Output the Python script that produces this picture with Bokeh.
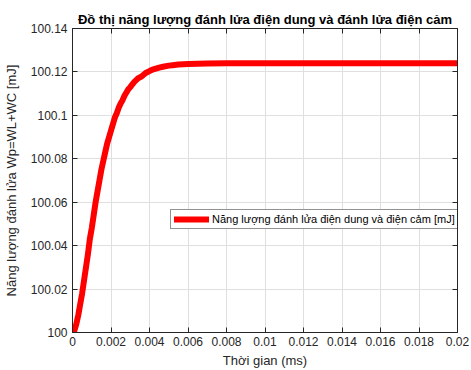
from bokeh.plotting import figure
from bokeh.models import FixedTicker, LinearAxis, Legend, LegendItem, Range1d
from bokeh.embed import file_html
from bokeh.resources import INLINE

# Data
t_ms = [0, 0.0001, 0.0002, 0.0003, 0.0004, 0.0005, 0.0006, 0.0007, 0.0008, 0.0009,
        0.001, 0.0011, 0.0012, 0.0013, 0.0014, 0.0015, 0.0016, 0.0017, 0.0018,
        0.0019, 0.002, 0.0021, 0.0022, 0.0023, 0.0024, 0.0025, 0.0026, 0.0027,
        0.0028, 0.0029, 0.003, 0.0031, 0.0032, 0.0034, 0.0036, 0.0038, 0.004,
        0.0042, 0.0045, 0.0047, 0.005, 0.0052, 0.0055, 0.006, 0.0065, 0.007,
        0.008, 0.01, 0.012, 0.015, 0.02]
energy_mJ = [100.000, 100.001, 100.004, 100.008, 100.013, 100.018, 100.024, 100.030,
             100.036, 100.043, 100.048, 100.054, 100.060, 100.065, 100.070, 100.075,
             100.079, 100.083, 100.087, 100.090, 100.093, 100.096, 100.099, 100.101,
             100.1035, 100.1055, 100.107, 100.109, 100.1105, 100.112, 100.113,
             100.1142, 100.1153, 100.117, 100.118, 100.1195, 100.1204, 100.1212,
             100.122, 100.1224, 100.1229, 100.1231, 100.1234, 100.1237, 100.1238,
             100.1239, 100.124, 100.124, 100.124, 100.124, 100.124]

x_ticks = [0, 0.002, 0.004, 0.006, 0.008, 0.01, 0.012, 0.014, 0.016, 0.018, 0.02]
x_tick_labels = ["0", "0.002", "0.004", "0.006", "0.008", "0.01", "0.012", "0.014",
                 "0.016", "0.018", "0.02"]
y_ticks = [100, 100.02, 100.04, 100.06, 100.08, 100.1, 100.12, 100.14]
y_tick_labels = ["100", "100.02", "100.04", "100.06", "100.08", "100.1", "100.12", "100.14"]

title_text = "Đồ thị năng lượng đánh lửa điện dung và đánh lửa điện cảm"
x_label = "Thời gian (ms)"
y_label = "Năng lượng đánh lửa Wp=WL+WC [mJ]"
legend_label = "Năng lượng đánh lửa điện dung và điện cảm [mJ]"

FONT = "Liberation Sans"
AX = "#262626"

p = figure(width=471, height=370, output_backend="svg", toolbar_location=None,
           x_range=Range1d(0, 0.02), y_range=Range1d(100, 100.14),
           min_border_left=71, min_border_right=14, min_border_top=28,
           min_border_bottom=38)
p.background_fill_color = "white"
p.border_fill_color = "white"
p.outline_line_color = AX
p.outline_line_width = 1

p.title.text = title_text
p.title.text_font = FONT
p.title.text_font_size = "13px"
p.title.text_font_style = "bold"
p.title.text_color = "black"
p.title.align = "center"
p.title.standoff = 3

r = p.line(t_ms, energy_mJ, line_color="#FF0000", line_width=6,
           line_join="round", line_cap="round")

for ax, ticks, labels in ((p.xaxis[0], x_ticks, x_tick_labels), (p.yaxis[0], y_ticks, y_tick_labels)):
    ax.ticker = FixedTicker(ticks=ticks)
    ax.major_label_overrides = {tv: lab for tv, lab in zip(ticks, labels)}
    ax.major_label_text_font = FONT
    ax.major_label_text_font_size = "12px"
    ax.major_label_text_color = AX
    ax.axis_line_color = AX
    ax.major_tick_line_color = AX
    ax.major_tick_in = 5
    ax.major_tick_out = 0
    ax.minor_tick_line_color = None
    ax.axis_label_text_font = FONT
    ax.axis_label_text_font_size = "13px"
    ax.axis_label_text_font_style = "normal"
    ax.axis_label_text_color = AX

p.xaxis[0].axis_label = x_label
p.xaxis[0].major_label_standoff = 4
p.xaxis[0].axis_label_standoff = 4
p.yaxis[0].axis_label = y_label
p.yaxis[0].major_label_standoff = 5
p.yaxis[0].axis_label_standoff = 9

for loc, ticks in (("above", x_ticks), ("right", y_ticks)):
    ax = LinearAxis(ticker=FixedTicker(ticks=ticks), major_label_text_color=None,
                    major_label_text_font_size="1px", major_label_standoff=0,
                    major_tick_in=5, major_tick_out=0, minor_tick_line_color=None,
                    axis_line_color=AX, major_tick_line_color=AX)
    p.add_layout(ax, loc)

p.xgrid.ticker = FixedTicker(ticks=x_ticks)
p.ygrid.ticker = FixedTicker(ticks=y_ticks)
for g in (p.xgrid[0], p.ygrid[0]):
    g.grid_line_color = "#dfdfdf"
    g.grid_line_width = 1

legend = Legend(items=[LegendItem(label=legend_label, renderers=[r])],
                location=(98, 103), orientation="vertical")
legend.label_text_font = FONT
legend.label_text_font_size = "11px"
legend.label_text_color = "black"
legend.glyph_width = 35
legend.glyph_height = 10
legend.label_standoff = 3
legend.padding = 3
legend.margin = 0
legend.spacing = 0
legend.border_line_color = AX
legend.border_line_width = 1
legend.background_fill_alpha = 1
legend.label_height = 12
p.add_layout(legend, "center")

open("out.html", "w").write(file_html(p, INLINE))
